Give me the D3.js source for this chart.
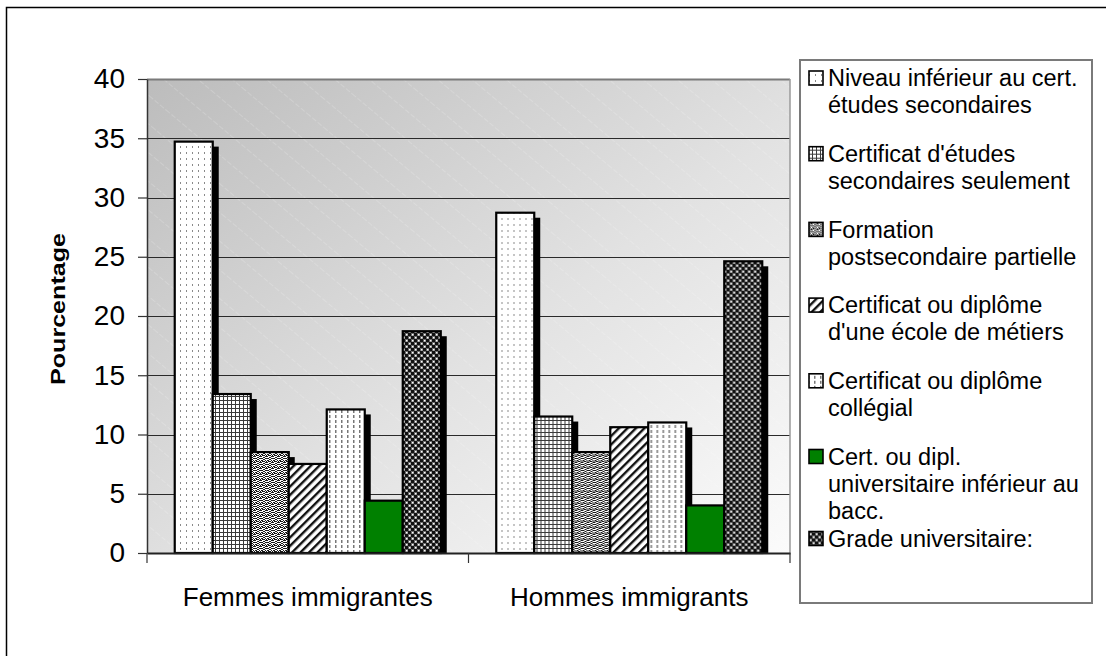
<!DOCTYPE html>
<html lang="fr">
<head>
<meta charset="utf-8">
<script src="https://cdn.jsdelivr.net/npm/d3@7"></script>
<style>
  html, body { margin: 0; padding: 0; background: #ffffff; }
  svg { display: block; font-family: "Liberation Sans", Arial, Helvetica, sans-serif; }
</style>
</head>
<body>
<svg id="chart" width="1106" height="656"></svg>
<script>
// Categories, series and values
const categories = ["Femmes immigrantes", "Hommes immigrants"];
const seriesKeys = ["niv", "sec", "part", "met", "coll", "uniInf", "grade"];
const seriesLabels = [
  ["Niveau inférieur au cert.", "études secondaires"],
  ["Certificat d'études", "secondaires seulement"],
  ["Formation", "postsecondaire partielle"],
  ["Certificat ou diplôme", "d'une école de métiers"],
  ["Certificat ou diplôme", "collégial"],
  ["Cert. ou dipl.", "universitaire inférieur au", "bacc."],
  ["Grade universitaire:"]
];
const femmesValues = [34.8, 13.5, 8.6, 7.6, 12.2, 4.5, 18.8];
const hommesValues = [28.8, 11.6, 8.6, 10.7, 11.1, 4.1, 24.7];
const yTicks = [0, 5, 10, 15, 20, 25, 30, 35, 40];
const yTitle = "Pourcentage";

const valuesByCategory = [femmesValues, hommesValues];

const svg = d3.select("#chart");
const defs = svg.append("defs");

// Layout
const plot = { left: 147, right: 790, top: 79, bottom: 553 };

// Plot area background: diagonal grey-to-white gradient with faint stripes
const grad = defs.append("linearGradient").attr("id", "plotBg")
  .attr("x1", 0).attr("y1", 0).attr("x2", 1).attr("y2", 1);
grad.append("stop").attr("offset", "0%").attr("stop-color", "#bcbcbc");
grad.append("stop").attr("offset", "55%").attr("stop-color", "#e2e2e2");
grad.append("stop").attr("offset", "100%").attr("stop-color", "#fbfbfb");

const stripes = defs.append("pattern").attr("id", "bgStripes")
  .attr("patternUnits", "userSpaceOnUse").attr("width", 22).attr("height", 22)
  .attr("patternTransform", "rotate(-50)");
stripes.append("line").attr("x1", 0).attr("y1", 0).attr("x2", 0).attr("y2", 22)
  .attr("stroke", "#ffffff").attr("stroke-width", 1).attr("stroke-opacity", 0.35)
  .attr("stroke-dasharray", "5,2");

// Fill patterns for each series
function pat(id, w, h, bg) {
  const p = defs.append("pattern").attr("id", id)
    .attr("patternUnits", "userSpaceOnUse").attr("width", w).attr("height", h);
  p.append("rect").attr("width", w).attr("height", h).attr("fill", bg);
  return p;
}
// sparse dots
const p0 = pat("p-niv", 6, 6, "#ffffff");
p0.append("rect").attr("x", 3).attr("y", 2).attr("width", 1).attr("height", 2).attr("fill", "#8a8a8a");
// fine grid
const p1 = pat("p-sec", 4, 4, "#ffffff");
p1.append("rect").attr("x", 0).attr("y", 0).attr("width", 1).attr("height", 4).attr("fill", "#3a3a3a");
p1.append("rect").attr("x", 0).attr("y", 0).attr("width", 4).attr("height", 1).attr("fill", "#3a3a3a");
// speckle
const p2 = pat("p-part", 6, 6, "#ffffff");
[[0,0],[2,1],[4,0],[1,2],[3,3],[5,2],[0,4],[2,5],[4,4],[5,5],[1,4],[3,1],
 [5,0],[0,2],[2,3],[4,2],[1,5],[3,5]].forEach(([x, y]) =>
  p2.append("rect").attr("x", x).attr("y", y).attr("width", 1).attr("height", 1).attr("fill", "#1a1a1a"));
// diagonal stripes
const p3 = defs.append("pattern").attr("id", "p-met")
  .attr("patternUnits", "userSpaceOnUse").attr("width", 6).attr("height", 6)
  .attr("patternTransform", "rotate(45)");
p3.append("rect").attr("width", 6).attr("height", 6).attr("fill", "#ffffff");
p3.append("rect").attr("x", 0).attr("y", 0).attr("width", 2.4).attr("height", 6).attr("fill", "#111");
// dashed columns
const p4 = pat("p-coll", 6, 5, "#ffffff");
p4.append("rect").attr("x", 2).attr("y", 0).attr("width", 1.5).attr("height", 3).attr("fill", "#777");
// dark checker with light specks
const p6 = pat("p-grade", 6, 6, "#6a6a6a");
p6.append("rect").attr("x", 0).attr("y", 0).attr("width", 3).attr("height", 3).attr("fill", "#111");
p6.append("rect").attr("x", 3).attr("y", 3).attr("width", 3).attr("height", 3).attr("fill", "#111");
p6.append("rect").attr("x", 4).attr("y", 1).attr("width", 1.5).attr("height", 1.5).attr("fill", "#ffffff");
p6.append("rect").attr("x", 1).attr("y", 4).attr("width", 1.5).attr("height", 1.5).attr("fill", "#ffffff");

const seriesFills = {
  niv: "url(#p-niv)", sec: "url(#p-sec)", part: "url(#p-part)", met: "url(#p-met)",
  coll: "url(#p-coll)", uniInf: "#008000", grade: "url(#p-grade)"
};

// Outer chart frame
svg.append("rect").attr("x", 6.5).attr("y", 7.5).attr("width", 1120).attr("height", 680)
  .attr("fill", "#ffffff").attr("stroke", "#000").attr("stroke-width", 1.5);

// Scales
const x0 = d3.scaleBand().domain(categories).range([plot.left, plot.right]).padding(0);
const x1 = d3.scaleBand().domain(seriesKeys).range([0, x0.bandwidth()])
  .paddingInner(0).paddingOuter(0.73);
const y = d3.scaleLinear().domain([0, 40]).range([plot.bottom, plot.top]);

// Plot background
svg.append("rect").attr("x", plot.left).attr("y", plot.top)
  .attr("width", plot.right - plot.left).attr("height", plot.bottom - plot.top)
  .attr("fill", "url(#plotBg)");
svg.append("rect").attr("x", plot.left).attr("y", plot.top)
  .attr("width", plot.right - plot.left).attr("height", plot.bottom - plot.top)
  .attr("fill", "url(#bgStripes)");

// Gridlines
svg.append("g").selectAll("line").data(yTicks.filter(t => t > 0)).join("line")
  .attr("x1", plot.left).attr("x2", plot.right)
  .attr("y1", d => Math.round(y(d)) + 0.5).attr("y2", d => Math.round(y(d)) + 0.5)
  .attr("stroke", d => d === 40 ? "#7a7a7a" : "#2a2a2a")
  .attr("stroke-width", d => d === 40 ? 2 : 1);
// Plot right edge
svg.append("line").attr("x1", plot.right).attr("x2", plot.right)
  .attr("y1", plot.top).attr("y2", plot.bottom).attr("stroke", "#9a9a9a").attr("stroke-width", 1.5);

// Bars with drop shadows
const groups = svg.append("g").selectAll("g").data(categories).join("g")
  .attr("transform", d => `translate(${x0(d)},0)`);

groups.each(function(cat, ci) {
  const g = d3.select(this);
  const vals = valuesByCategory[ci].map((v, i) => ({ key: seriesKeys[i], value: v }));
  vals.forEach(d => {
    const bx = x1(d.key), bw = x1.bandwidth(), by = y(d.value);
    g.append("rect").attr("x", bx + 6).attr("y", by + 6)
      .attr("width", bw).attr("height", Math.max(0, plot.bottom - by - 6))
      .attr("fill", "#000");
    g.append("rect").attr("x", bx).attr("y", by + 1)
      .attr("width", bw).attr("height", plot.bottom - by - 1)
      .attr("fill", seriesFills[d.key]).attr("stroke", "#000").attr("stroke-width", 2.2);
  });
});

// Y axis
const yAxis = svg.append("g").attr("transform", `translate(${plot.left},0)`)
  .call(d3.axisLeft(y).tickValues(yTicks).tickSize(9).tickSizeOuter(0).tickPadding(13));
yAxis.select(".domain").attr("stroke", "#333").attr("stroke-width", 1.5);
yAxis.selectAll(".tick line").attr("stroke", "#333").attr("stroke-width", 1.2);
yAxis.selectAll("text").attr("font-size", 28).attr("fill", "#000")
  .attr("font-family", "'Liberation Sans', Arial, sans-serif");

// X axis: labels centred, ticks on category boundaries
const xAxis = svg.append("g").attr("transform", `translate(0,${plot.bottom})`)
  .call(d3.axisBottom(x0).tickSize(0).tickSizeOuter(0).tickPadding(35));
xAxis.select(".domain").attr("stroke", "#222").attr("stroke-width", 2);
xAxis.selectAll("text").attr("font-size", 26).attr("fill", "#000")
  .attr("font-family", "'Liberation Sans', Arial, sans-serif");
const bounds = categories.map(c => x0(c)).concat([x0.range()[1]]);
xAxis.selectAll(".bound").data(bounds).join("line").attr("class", "bound")
  .attr("x1", d => d).attr("x2", d => d).attr("y1", 0).attr("y2", 10)
  .attr("stroke", "#333").attr("stroke-width", 1.2);

// Y title
svg.append("text")
  .attr("transform", `translate(65,${(plot.top + plot.bottom) / 2 - 7}) rotate(-90)`)
  .attr("text-anchor", "middle").attr("font-weight", "bold").attr("font-size", 21)
  .attr("textLength", 152).attr("lengthAdjust", "spacingAndGlyphs")
  .text(yTitle);

// Legend: entries on an even slot grid; an entry is pushed down if the
// previous one runs long.
const legend = { x: 800, y: 60, w: 292, h: 543, firstLine: 78, slot: 75.7, lineH: 27, fontSize: 23.5 };
svg.append("rect").attr("x", legend.x).attr("y", legend.y)
  .attr("width", legend.w).attr("height", legend.h)
  .attr("fill", "#ffffff").attr("stroke", "#7a7a7a").attr("stroke-width", 2);

const entryY = [];
seriesKeys.forEach((k, i) => {
  const even = legend.firstLine + i * legend.slot;
  const prevEnd = i === 0 ? -Infinity
    : entryY[i - 1] + seriesLabels[i - 1].length * legend.lineH;
  entryY.push(Math.max(even, prevEnd + 1));
});

const items = svg.append("g").selectAll("g").data(seriesKeys).join("g")
  .attr("transform", (d, i) => `translate(${legend.x},${entryY[i]})`);
items.append("rect").attr("x", 9).attr("y", -7).attr("width", 14).attr("height", 14)
  .attr("fill", d => seriesFills[d]).attr("stroke", "#000").attr("stroke-width", 1.6);
items.each(function(d, i) {
  d3.select(this).selectAll("text").data(seriesLabels[i]).join("text")
    .attr("x", 28).attr("y", (t, j) => j * legend.lineH).attr("dy", "0.35em")
    .attr("font-size", legend.fontSize).attr("fill", "#000").text(t => t);
});
</script>
</body>
</html>
